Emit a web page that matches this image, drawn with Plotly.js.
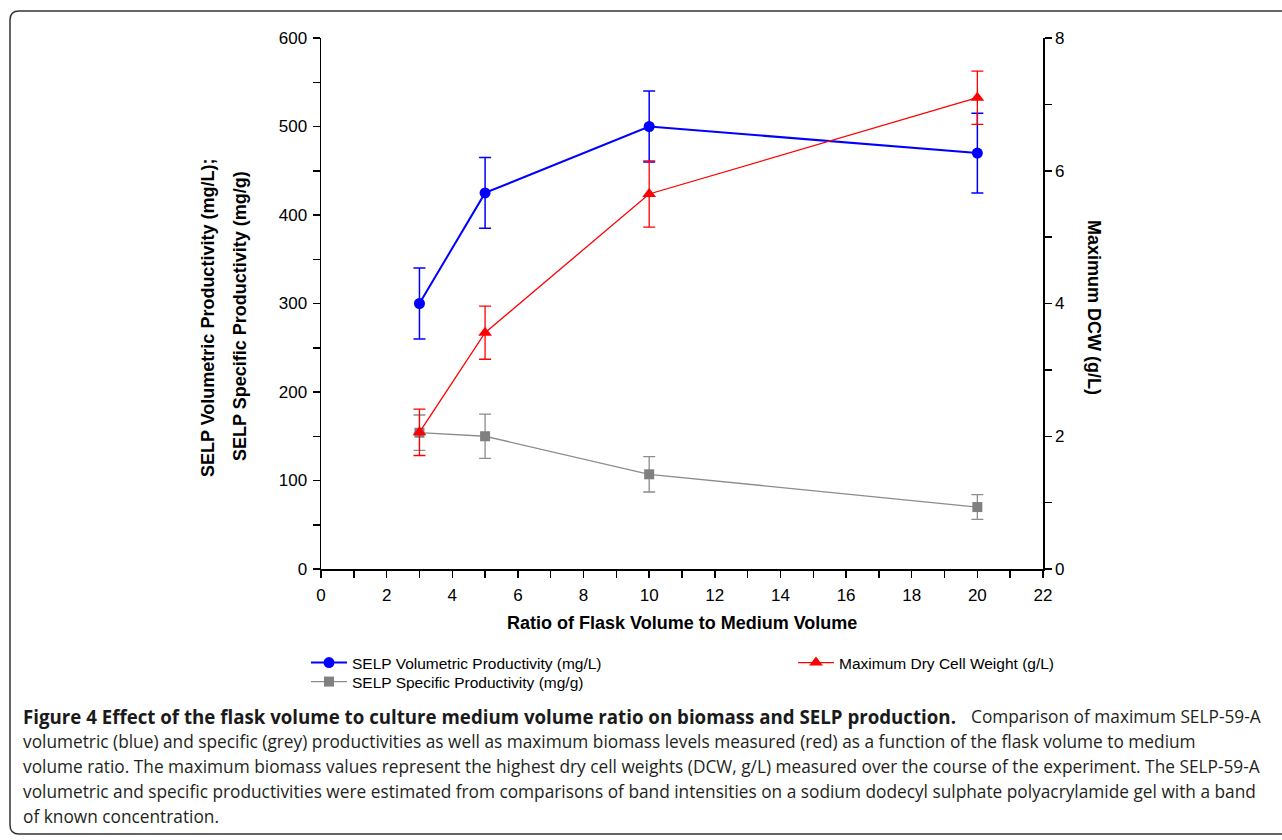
<!DOCTYPE html>
<html>
<head>
<meta charset="utf-8">
<script src="https://cdn.plot.ly/plotly-3.0.1.min.js"></script>
<style>
html,body{margin:0;padding:0;background:#fff;}
#chart{width:1282px;height:840px;}
</style>
</head>
<body>
<div id="chart"></div>
<script>
// ---- data ----
const ratio = [3, 5, 10, 20];
const volumetric = [300, 425, 500, 470];
const volumetricErr = [40, 40, 40, 45];
const specific = [154, 150, 107, 70];
const specificErr = [20, 25, 20, 14];
const dcw = [2.06, 3.56, 5.65, 7.1];
const dcwErr = [0.35, 0.4, 0.5, 0.4];

const xTitle = 'Ratio of Flask Volume to Medium Volume';
const yTitle1 = 'SELP Volumetric Productivity (mg/L);';
const yTitle2 = 'SELP Specific Productivity (mg/g)';
const y2Title = 'Maximum DCW (g/L)';
const captionBold = 'Figure 4 Effect of the flask volume to culture medium volume ratio on biomass and SELP production.';
const captionLine1Rest = 'Comparison of maximum SELP-59-A';
const captionLines = [
  'volumetric (blue) and specific (grey) productivities as well as maximum biomass levels measured (red) as a function of the flask volume to medium',
  'volume ratio. The maximum biomass values represent the highest dry cell weights (DCW, g/L) measured over the course of the experiment. The SELP-59-A',
  'volumetric and specific productivities were estimated from comparisons of band intensities on a sodium dodecyl sulphate polyacrylamide gel with a band',
  'of known concentration.'
];

// ---- layout helpers (pixel -> paper) ----
const L = 321, R = 1043, T = 38, B = 569;
const px = p => (p - L) / (R - L);
const py = p => (B - p) / (B - T);

const sans = 'Liberation Sans, Arial, sans-serif';
const axisFont = {family: sans, size: 17, color: '#000'};
const titleFont = {family: sans, size: 18, color: '#000'};
const legendFont = {family: sans, size: 15.5, color: '#000'};
const capFont = {family: 'Open Sans, sans-serif', size: 17.3, color: '#231f20'};

const traces = [
  {
    x: ratio, y: specific, name: 'SELP Specific Productivity (mg/g)',
    type: 'scatter', mode: 'lines+markers', yaxis: 'y', legend: 'legend3',
    line: {color: '#8c8c8c', width: 1.3},
    marker: {symbol: 'square', size: 10, color: '#808080'},
    error_y: {type: 'data', array: specificErr, visible: true, color: '#8c8c8c', thickness: 1.3, width: 6}
  },
  {
    x: ratio, y: volumetric, name: 'SELP Volumetric Productivity (mg/L)',
    type: 'scatter', mode: 'lines+markers', yaxis: 'y', legend: 'legend',
    line: {color: '#0000ff', width: 2},
    marker: {symbol: 'circle', size: 11, color: '#0000ff'},
    error_y: {type: 'data', array: volumetricErr, visible: true, color: '#0000ff', thickness: 1.5, width: 6}
  },
  {
    x: ratio, y: dcw, name: 'Maximum Dry Cell Weight (g/L)',
    type: 'scatter', mode: 'lines+markers', yaxis: 'y2', legend: 'legend2',
    line: {color: '#ff0000', width: 1.3},
    marker: {symbol: 'triangle-up', size: 12, color: '#ff0000'},
    error_y: {type: 'data', array: dcwErr, visible: true, color: '#ff0000', thickness: 1.3, width: 6}
  }
];

const annotations = [
  {text: '<b>' + xTitle + '</b>', x: px(682), y: py(623), xref: 'paper', yref: 'paper',
   showarrow: false, font: titleFont, xanchor: 'center', yanchor: 'middle'},
  {text: '<b>' + yTitle1 + '</b>', x: px(208), y: py(318), xref: 'paper', yref: 'paper',
   showarrow: false, font: titleFont, textangle: -90, xanchor: 'center', yanchor: 'middle'},
  {text: '<b>' + yTitle2 + '</b>', x: px(240), y: py(316), xref: 'paper', yref: 'paper',
   showarrow: false, font: titleFont, textangle: -90, xanchor: 'center', yanchor: 'middle'},
  {text: '<b>' + y2Title + '</b>', x: px(1094), y: py(307), xref: 'paper', yref: 'paper',
   showarrow: false, font: titleFont, textangle: 90, xanchor: 'center', yanchor: 'middle'},
  {text: '<b>' + captionBold + '</b>', x: px(21), y: py(716), xref: 'paper', yref: 'paper',
   showarrow: false, xanchor: 'left', yanchor: 'middle', align: 'left',
   font: {family: 'Open Sans, sans-serif', size: 18.7, color: '#1a1a1a'}},
  {text: captionLine1Rest, x: px(1263), y: py(716), xref: 'paper', yref: 'paper',
   showarrow: false, xanchor: 'right', yanchor: 'middle', align: 'right', font: capFont}
];
captionLines.forEach((t, i) => {
  annotations.push({
    text: t, x: px(21), y: py(741 + i * 25), xref: 'paper', yref: 'paper',
    showarrow: false, xanchor: 'left', yanchor: 'middle', align: 'left', font: capFont
  });
});

// rounded border
const x0 = px(10), x1 = px(1292), y0 = py(834), y1 = py(11);
const rx = 9 / (R - L), ry = 9 / (B - T);
const borderPath = `M ${x0} ${y0 + ry} L ${x0} ${y1 - ry} Q ${x0} ${y1} ${x0 + rx} ${y1} L ${x1} ${y1} L ${x1} ${y0} L ${x0 + rx} ${y0} Q ${x0} ${y0} ${x0} ${y0 + ry} Z`;

const axisCommon = {
  showgrid: false, zeroline: false,
  showline: true, linecolor: '#000', linewidth: 1.5,
  ticks: 'outside', ticklen: 7, tickwidth: 1.5, tickcolor: '#000',
  tickfont: axisFont
};
const minorCommon = {ticks: 'outside', ticklen: 7, tickwidth: 1.5, tickcolor: '#000', showgrid: false};
const legendCommon = {xanchor: 'left', yanchor: 'middle', orientation: 'v', font: legendFont,
  bgcolor: 'rgba(0,0,0,0)', itemwidth: 36};

const layout = {
  width: 1282, height: 840,
  margin: {l: L, r: 1282 - R, t: T, b: 840 - B},
  paper_bgcolor: '#fff', plot_bgcolor: '#fff',
  showlegend: true,
  xaxis: Object.assign({}, axisCommon, {range: [0, 22], dtick: 2, tick0: 0, anchor: 'y',
    ticklabelstandoff: 3, minor: Object.assign({dtick: 1}, minorCommon)}),
  yaxis: Object.assign({}, axisCommon, {range: [0, 600], dtick: 100, tick0: 0,
    ticklabelstandoff: 2, minor: Object.assign({dtick: 50}, minorCommon)}),
  yaxis2: Object.assign({}, axisCommon, {range: [0, 8], dtick: 2, tick0: 0, overlaying: 'y', side: 'right',
    minor: Object.assign({dtick: 1}, minorCommon)}),
  legend: Object.assign({}, legendCommon, {x: px(306), y: py(663)}),
  legend2: Object.assign({}, legendCommon, {x: px(793), y: py(663)}),
  legend3: Object.assign({}, legendCommon, {x: px(306), y: py(682)}),
  annotations: annotations,
  shapes: [{type: 'path', xref: 'paper', yref: 'paper', path: borderPath,
            line: {color: '#333', width: 1.5}, fillcolor: 'rgba(0,0,0,0)', layer: 'below'}]
};

Plotly.newPlot('chart', traces, layout, {displayModeBar: false, staticPlot: true});
</script>
</body>
</html>
